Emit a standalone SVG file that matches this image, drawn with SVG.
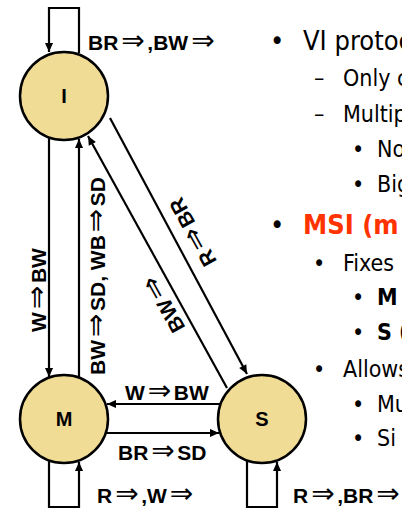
<svg xmlns="http://www.w3.org/2000/svg" width="402" height="511" viewBox="0 0 402 511">
  <defs>
    <marker id="ah" viewBox="0 0 10 10" refX="10" refY="5" markerWidth="10" markerHeight="9" markerUnits="userSpaceOnUse" orient="auto">
      <path d="M0,0.5 L10,5 L0,9.5 z" fill="#000"/>
    </marker>
  </defs>
  <style>
    .st { fill: #f0dc94; stroke: #000; stroke-width: 2.5; }
    .nm { font-family: "Liberation Sans", Arial, sans-serif; font-weight: bold; font-size: 20px; text-anchor: middle; }
    .edge { fill: none; stroke: #000; stroke-width: 2.2; }
    .lbl { font-family: "Liberation Sans", Arial, sans-serif; font-weight: bold; font-size: 21px; fill: #000; }
    .ar { font-family: "DejaVu Sans", sans-serif; font-weight: normal; font-size: 28px; letter-spacing: 2.5px; }
    .t1 { font-family: "DejaVu Sans Condensed", "DejaVu Sans", sans-serif; font-size: 27px; fill: #000; }
    .t2 { font-family: "DejaVu Sans Condensed", "DejaVu Sans", sans-serif; font-size: 23px; fill: #000; }
    .b { font-weight: bold; }
    .red { fill: #ff3300; font-weight: bold; }
  </style>

  <!-- state machine -->
  <g id="connectors">
    <path class="edge" d="M79,53 V8 H49 V52" marker-end="url(#ah)"/>
    <path class="edge" d="M49,461 V507 H79 V462" marker-end="url(#ah)"/>
    <path class="edge" d="M247,461 V507 H277 V462" marker-end="url(#ah)"/>
    <path class="edge" d="M49,138 V377" marker-end="url(#ah)"/>
    <path class="edge" d="M79,378 V139" marker-end="url(#ah)"/>
    <path class="edge" d="M221,404 H107" marker-end="url(#ah)"/>
    <path class="edge" d="M106,433 H219" marker-end="url(#ah)"/>
    <path class="edge" d="M110,118 L247,374" marker-end="url(#ah)"/>
    <path class="edge" d="M227,388 L88,136" marker-end="url(#ah)"/>

    <text class="lbl" x="88" y="50">BR<tspan class="ar" dx="3">⇒</tspan>,BW<tspan class="ar" dx="3">⇒</tspan></text>
    <text class="lbl" x="97" y="503">R<tspan class="ar" dx="3">⇒</tspan>,W<tspan class="ar" dx="3">⇒</tspan></text>
    <text class="lbl" x="293" y="503">R<tspan class="ar" dx="3">⇒</tspan>,BR<tspan class="ar" dx="3">⇒</tspan></text>
    <text class="lbl" x="125" y="400">W<tspan class="ar" dx="3">⇒</tspan>BW</text>
    <text class="lbl" x="118" y="460">BR<tspan class="ar" dx="3">⇒</tspan>SD</text>
    <text class="lbl" text-anchor="middle" transform="translate(46,290) rotate(-90)">W<tspan class="ar" dx="3">⇒</tspan>BW</text>
    <text class="lbl" text-anchor="middle" transform="translate(105,276) rotate(-90)">BW<tspan class="ar" dx="3">⇒</tspan>SD, WB<tspan class="ar" dx="3">⇒</tspan>SD</text>
    <text class="lbl" text-anchor="middle" transform="translate(193,232) rotate(-119)" y="7">R<tspan class="ar" dx="3">⇒</tspan>BR</text>
    <text class="lbl" text-anchor="middle" transform="translate(164,303) rotate(-119)" y="7">BW<tspan class="ar" dx="3">⇒</tspan></text>
  </g>

  <g id="state-I">
    <circle class="st" cx="64" cy="96" r="44"/>
    <text class="nm" x="64" y="103">I</text>
  </g>
  <g id="state-M">
    <circle class="st" cx="64" cy="419" r="44"/>
    <text class="nm" x="64" y="426">M</text>
  </g>
  <g id="state-S">
    <circle class="st" cx="262" cy="419" r="44"/>
    <text class="nm" x="262" y="426">S</text>
  </g>

  <!-- bullet list -->
  <g id="notes">
    <text class="t1" x="270" y="50">•</text>
    <text class="t1" x="303" y="50">VI protoc</text>
    <text class="t2" x="314" y="86">–</text>
    <text class="t2" x="343" y="86">Only c</text>
    <text class="t2" x="314" y="122">–</text>
    <text class="t2" x="343" y="122">Multip</text>
    <text class="t2" x="352" y="157">•</text>
    <text class="t2" x="377" y="157">No</text>
    <text class="t2" x="352" y="192">•</text>
    <text class="t2" x="377" y="192">Big</text>
    <text class="t1" x="270" y="234">•</text>
    <text class="t1 red" x="303" y="234">MSI (m</text>
    <text class="t2" x="313" y="271">•</text>
    <text class="t2" x="343" y="271">Fixes</text>
    <text class="t2" x="352" y="305">•</text>
    <text class="t2 b" x="377" y="305">M</text>
    <text class="t2" x="352" y="340">•</text>
    <text class="t2 b" x="377" y="340">S (</text>
    <text class="t2" x="313" y="377">•</text>
    <text class="t2" x="343" y="377">Allows</text>
    <text class="t2" x="352" y="412">•</text>
    <text class="t2" x="377" y="412">Mu</text>
    <text class="t2" x="352" y="446">•</text>
    <text class="t2" x="377" y="446">Si</text>
  </g>
</svg>
